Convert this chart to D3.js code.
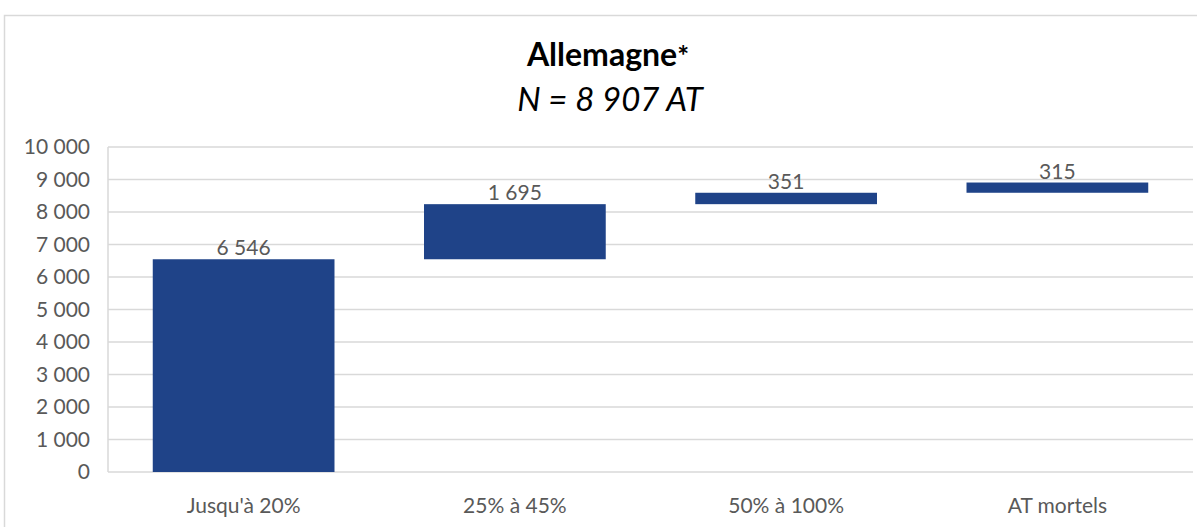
<!DOCTYPE html>
<html><head><meta charset="utf-8">
<script src="https://cdn.jsdelivr.net/npm/d3@7"></script>
<style>
html,body{margin:0;padding:0;background:#fff;}
text{font-family:Lato,"Liberation Sans",sans-serif;}
</style></head>
<body>
<script>
const categories = ["Jusqu'à 20%", "25% à 45%", "50% à 100%", "AT mortels"];
const values = [6546, 1695, 351, 315];
const yTicks = [0,1000,2000,3000,4000,5000,6000,7000,8000,9000,10000];
const titleText = "Allemagne";
const subtitleText = "N = 8 907 AT";

const W = 1197, H = 527;
const svg = d3.select("body").append("svg").attr("width", W).attr("height", H);

// chart frame
svg.append("rect").attr("x", 4.5).attr("y", 15.5).attr("width", 1200).attr("height", 600)
  .attr("fill", "#fff").attr("stroke", "#d9d9d9").attr("stroke-width", 1.5);

const pLeft = 108, pRight = 1193, pTop = 147, pBottom = 472;
const fmt = v => d3.format(",")(v).replace(/,/g, " ");

const x = d3.scaleBand().domain(categories).range([pLeft, pRight]).paddingInner(0.33).paddingOuter(0.165);
const y = d3.scaleLinear().domain([0, 10000]).range([pBottom, pTop]);

// cumulative waterfall
let cum = 0;
const bars = categories.map((c, i) => { const s = cum; cum += values[i]; return {c, v: values[i], start: s, end: cum}; });

// gridlines
svg.append("g").selectAll("line").data(yTicks).join("line")
  .attr("x1", pLeft).attr("x2", pRight)
  .attr("y1", d => y(d)).attr("y2", d => y(d))
  .attr("stroke", "#d9d9d9").attr("stroke-width", 1.5);
svg.append("line").attr("x1", pLeft).attr("x2", pLeft).attr("y1", pTop).attr("y2", pBottom)
  .attr("stroke", "#d9d9d9").attr("stroke-width", 1.5);

// y axis labels
const yAxis = d3.axisLeft(y).tickValues(yTicks).tickFormat(fmt).tickSize(0).tickPadding(18);
const gy = svg.append("g").attr("transform", `translate(${pLeft},0)`).call(yAxis);
gy.select(".domain").remove();
gy.selectAll("text").attr("fill", "#595959").style("font-size", "21px").style("font-family", "Lato, 'Liberation Sans', sans-serif");

// x axis labels
const xAxis = d3.axisBottom(x).tickSize(0).tickPadding(0);
const gx = svg.append("g").attr("transform", `translate(0,${pBottom})`).call(xAxis);
gx.select(".domain").remove();
gx.selectAll("text").attr("fill", "#595959").attr("dy", 0).attr("y", 41)
  .style("font-size", "21px").style("font-family", "Lato, 'Liberation Sans', sans-serif");

// bars
svg.append("g").selectAll("rect").data(bars).join("rect")
  .attr("x", d => x(d.c)).attr("width", x.bandwidth())
  .attr("y", d => y(d.end)).attr("height", d => y(d.start) - y(d.end))
  .attr("fill", "#1f4388");

// data labels
svg.append("g").selectAll("text").data(bars).join("text")
  .attr("x", d => x(d.c) + x.bandwidth() / 2).attr("y", d => y(d.end) - 4)
  .attr("text-anchor", "middle").attr("fill", "#595959").style("font-size", "21px")
  .text(d => fmt(d.v));

// title
const t = svg.append("text").attr("x", 608).attr("y", 66).attr("text-anchor", "middle")
  .attr("fill", "#000").style("font-size", "32px").style("font-weight", "bold");
t.append("tspan").text(titleText);
t.append("tspan").text("*").style("font-size", "28px");
svg.append("text").attr("x", 610).attr("y", 111).attr("text-anchor", "middle")
  .attr("fill", "#000").style("font-size", "33px").style("font-style", "italic")
  .text(subtitleText);
</script>
</body></html>
